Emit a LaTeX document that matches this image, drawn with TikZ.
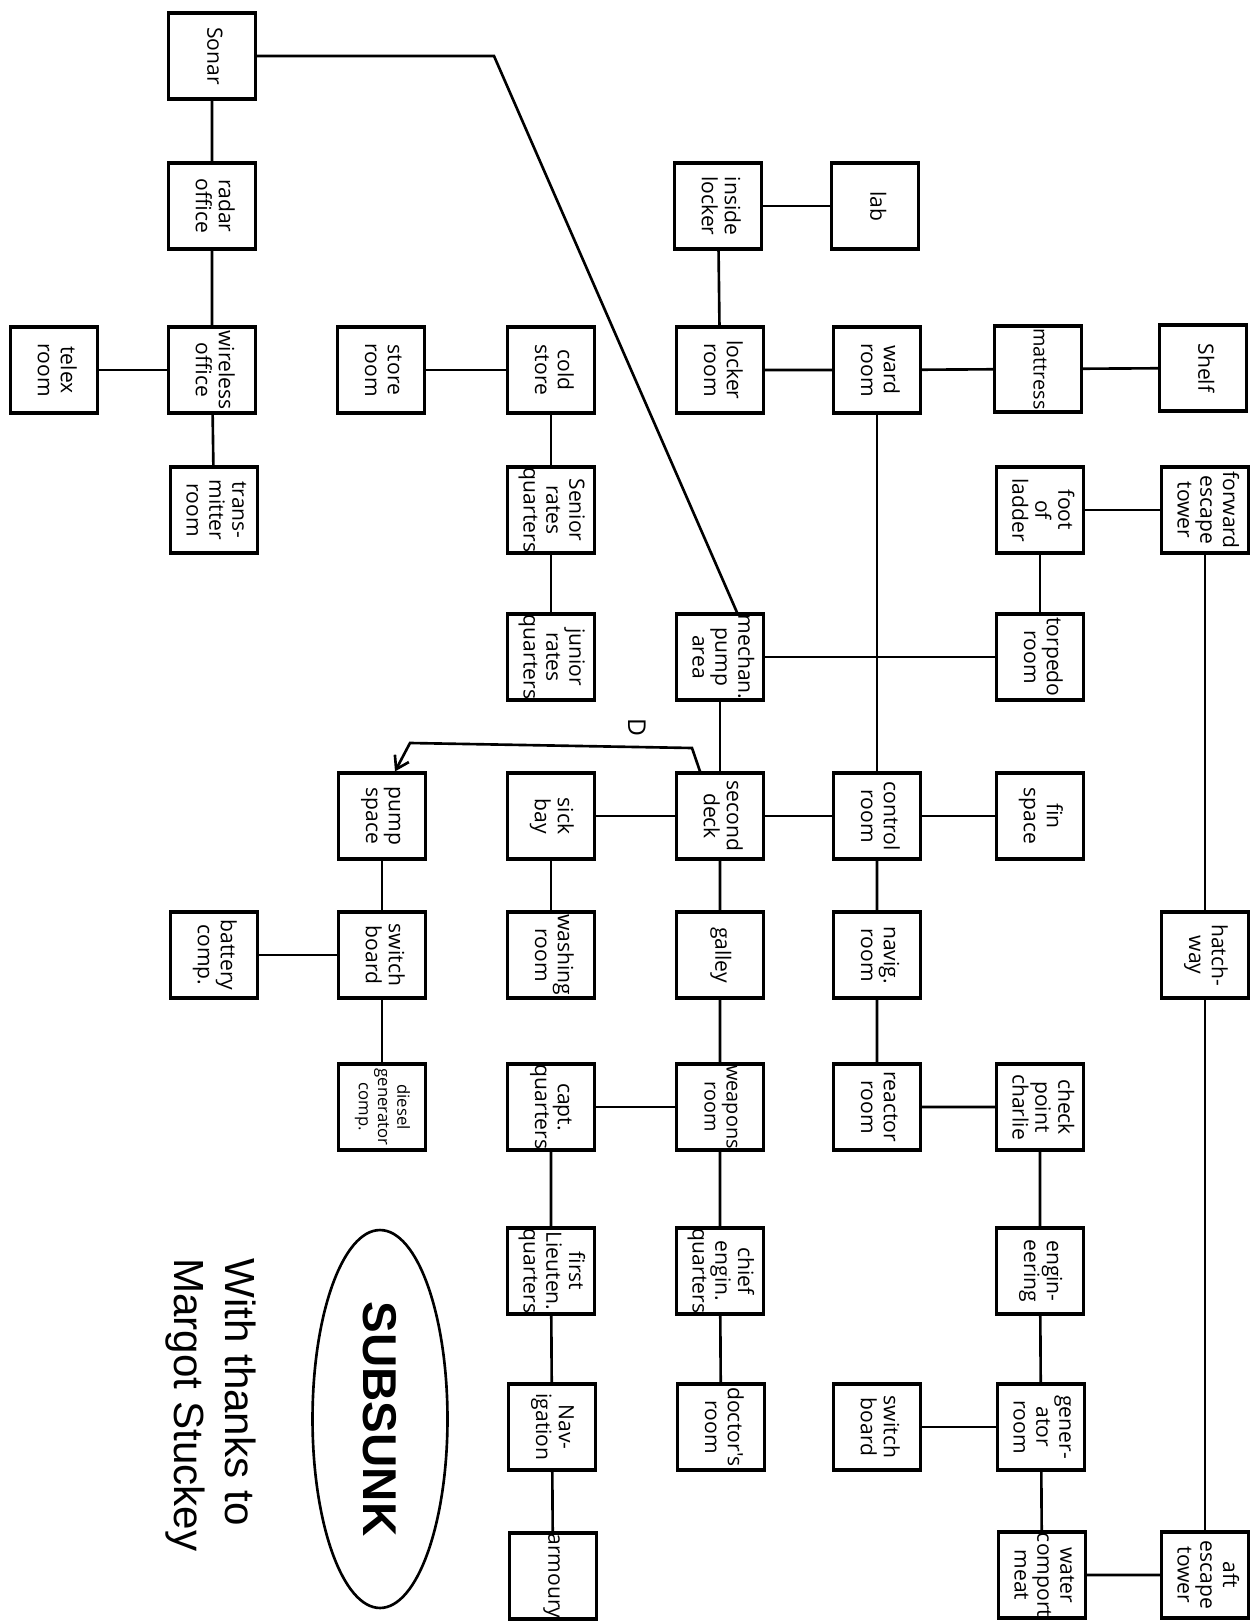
\documentclass[tikz,border=0pt]{standalone}
\usepackage{fontspec}
\setmainfont{Liberation Sans}
\newfontfamily\hand{Open Sans}
\usetikzlibrary{shapes.geometric,arrows.meta}
\newcommand{\rt}[1]{\rotatebox{-90}{\begin{tabular}{@{}c@{}}#1\end{tabular}}}
\tikzset{
  box/.style={draw, line width=1.8pt, minimum width=1.74cm, minimum height=1.72cm,
    inner sep=0pt, font=\hand\fontsize{12}{13}\selectfont},
  smalltxt/.style={font=\hand\fontsize{9.5}{11}\selectfont},
  midtxt/.style={font=\hand\fontsize{11.3}{12.5}\selectfont},
  conn/.style={line width=1.5pt},
}
\begin{document}
\begin{tikzpicture}[x=0.02cm, y=-0.02cm]
\useasboundingbox[fill=white] (0,0) rectangle (1250,1621);

% column B
\node[box] (sonar)    at (212,56)   {\rt{Sonar}};
\node[box] (radar)    at (212,206)  {\rt{radar\\office}};
\node[box] (wireless) at (212,370)  {\rt{wireless\\office}};
\node[box] (trans)    at (214,510)  {\rt{trans-\\mitter\\room}};
\node[box] (battery)  at (214,955)  {\rt{battery\\comp.}};
% column A
\node[box] (telex)    at (54,370)   {\rt{telex\\room}};
% column C
\node[box] (store)    at (381,370)  {\rt{store\\room}};
\node[box] (pump)     at (382,816)  {\rt{pump\\space}};
\node[box] (switchL)  at (382,955)  {\rt{switch\\board}};
\node[box, smalltxt] (diesel) at (382,1107) {\rt{diesel\\generator\\comp.}};
% column D
\node[box] (cold)     at (551,370)  {\rt{cold\\store}};
\node[box] (senior)   at (551,510)  {\rt{Senior\\rates\\quarters}};
\node[box] (junior)   at (551,657)  {\rt{junior\\rates\\quarters}};
\node[box] (sick)     at (551,816)  {\rt{sick\\bay}};
\node[box] (washing)  at (551,955)  {\rt{washing\\room}};
\node[box] (capt)     at (551,1107) {\rt{capt.\\quarters}};
\node[box] (lieut)    at (551,1271) {\rt{first\\Lieuten.\\quarters}};
\node[box] (navigation) at (552,1427) {\rt{Nav-\\igation}};
\node[box] (armoury)  at (553,1576) {\rt{armoury}};
% column E
\node[box] (inside)   at (718,206)  {\rt{inside\\locker}};
\node[box] (locker)   at (720,370)  {\rt{locker\\room}};
\node[box] (mech)     at (720,657)  {\rt{mechan.\\pump\\area}};
\node[box] (deck)     at (720,816)  {\rt{second\\deck}};
\node[box] (galley)   at (720,955)  {\rt{galley}};
\node[box, midtxt] (weapons)  at (720,1107) {\rt{weapons\\room}};
\node[box] (chief)    at (720,1271) {\rt{chief\\engin.\\quarters}};
\node[box] (doctor)   at (721,1427) {\rt{doctor's\\room}};
% column F
\node[box] (lab)      at (875,206)  {\rt{lab}};
\node[box] (ward)     at (877,370)  {\rt{ward\\room}};
\node[box] (control)  at (877,816)  {\rt{control\\room}};
\node[box] (navig)    at (877,955)  {\rt{navig.\\room}};
\node[box] (reactor)  at (877,1107) {\rt{reactor\\room}};
\node[box] (switchR)  at (877,1427) {\rt{switch\\board}};
% column G
\node[box, midtxt] (mattress) at (1038,369) {\rt{mattress}};
\node[box] (foot)     at (1040,510) {\rt{foot\\of\\ladder}};
\node[box] (torpedo)  at (1040,657) {\rt{torpedo\\room}};
\node[box] (fin)      at (1040,816) {\rt{fin\\space}};
\node[box] (check)    at (1040,1107) {\rt{check\\point\\charlie}};
\node[box] (eng)      at (1040,1271) {\rt{engin-\\eering}};
\node[box] (gen)      at (1041,1427) {\rt{gener-\\ator\\room}};
\node[box] (water)    at (1042,1575) {\rt{water\\comport\\meat}};
% column H
\node[box] (shelf)    at (1203,368) {\rt{Shelf}};
\node[box] (fwd)      at (1205,510) {\rt{forward\\escape\\tower}};
\node[box] (hatch)    at (1205,955) {\rt{hatch-\\way}};
\node[box] (aft)      at (1205,1575) {\rt{aft\\escape\\tower}};

% title and credits
\node[draw, ellipse, line width=1.5pt, rotate=-90, minimum width=7.56cm, minimum height=2.7cm,
  font=\bfseries\fontsize{27}{30}\selectfont] (title) at (380,1419) {SUBSUNK};
\node[rotate=-90, anchor=north west, inner sep=0pt, align=left,
  font=\fontsize{24}{29}\selectfont] (thanks) at (256,1258) {With thanks to\\Margot Stuckey};

% free-end coordinates
\coordinate (sbend) at (494,56);
\coordinate (d1) at (692,748);
\coordinate (d2) at (410,743);
\node[rotate=-90, inner sep=0pt, font=\hand\fontsize{14}{14}\selectfont] (dlab) at (637,727) {D};

% connectors
\draw[conn] (sonar) -- (radar) -- (wireless) -- (trans);
\draw[conn] (wireless) -- (telex);
\draw[conn] (store) -- (cold);
\draw[conn] (cold) -- (senior) -- (junior);
\draw[conn] (inside) -- (lab);
\draw[conn] (inside) -- (locker);
\draw[conn] (locker) -- (ward) -- (mattress) -- (shelf);
\draw[conn] (foot) -- (fwd);
\draw[conn] (foot) -- (torpedo);
\draw[conn] (ward) -- (control);
\draw[conn] (mech) -- (torpedo);
\draw[conn] (mech) -- (deck);
\draw[conn] (sick) -- (deck) -- (control) -- (fin);
\draw[conn] (sick) -- (washing);
\draw[conn] (deck) -- (galley) -- (weapons) -- (chief) -- (doctor);
\draw[conn] (control) -- (navig) -- (reactor) -- (check) -- (eng) -- (gen) -- (water) -- (aft);
\draw[conn] (switchR) -- (gen);
\draw[conn] (capt) -- (weapons);
\draw[conn] (capt) -- (lieut) -- (navigation) -- (armoury);
\draw[conn] (pump) -- (switchL) -- (diesel);
\draw[conn] (battery) -- (switchL);
\draw[conn] (fwd) -- (hatch) -- (aft);
\draw[conn] (sonar.east) -- (sbend) -- ([xshift=0.34cm]mech.north);
\draw[conn, -{Straight Barb[length=7pt,width=9pt]}] ([xshift=-0.4cm]deck.north) -- (d1) -- (d2) -- ([xshift=0.26cm]pump.north);
\end{tikzpicture}
\end{document}
